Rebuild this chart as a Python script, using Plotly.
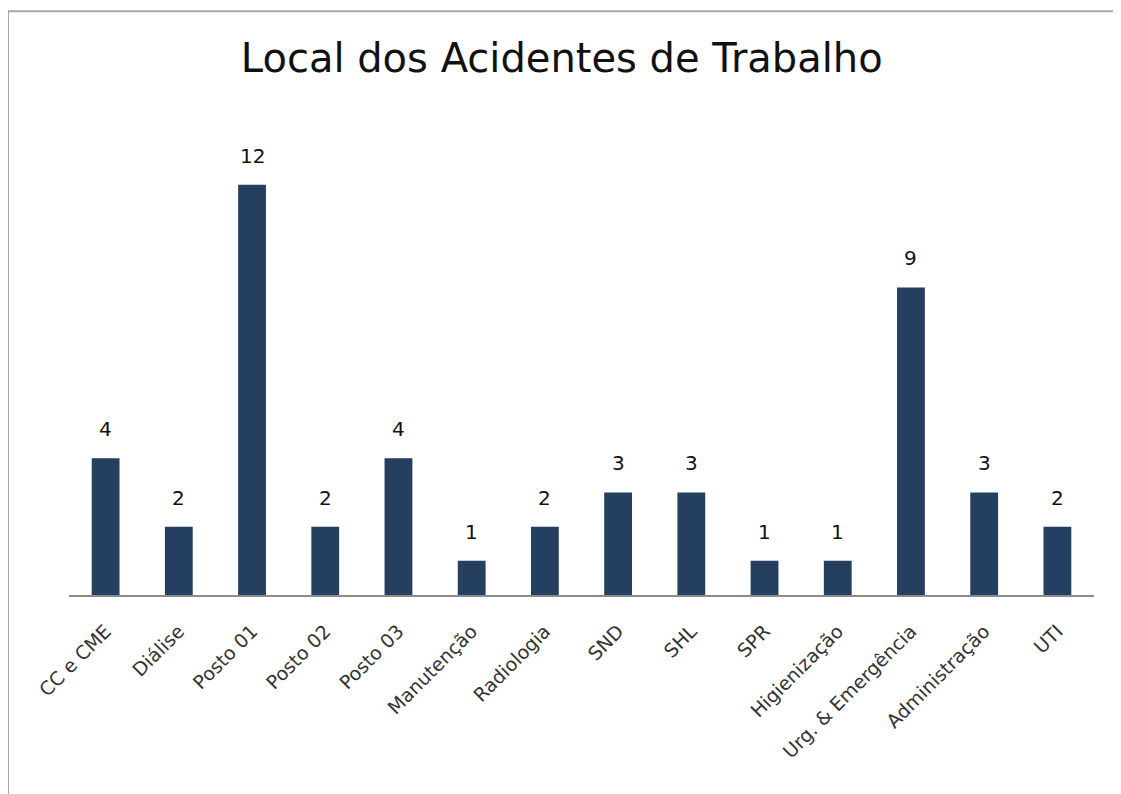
import plotly.graph_objects as go

locais = [
    "CC e CME", "Diálise", "Posto 01", "Posto 02", "Posto 03", "Manutenção",
    "Radiologia", "SND", "SHL", "SPR", "Higienização", "Urg. & Emergência",
    "Administração", "UTI",
]
acidentes = [4, 2, 12, 2, 4, 1, 2, 3, 3, 1, 1, 9, 3, 2]

FONTE = "DejaVu Sans, sans-serif"

fig = go.Figure(
    go.Bar(
        x=locais,
        y=acidentes,
        marker=dict(color="#243F60", line=dict(width=0)),
        width=0.38,
        hoverinfo="x+y",
    )
)

for loc, n in zip(locais, acidentes):
    fig.add_annotation(
        x=loc, y=n, text=str(n), showarrow=False, yanchor="bottom", yshift=15,
        font=dict(family=FONTE, size=20, color="#111111"),
    )

# moldura cinza em volta do gráfico
fig.add_shape(
    type="rect", xref="paper", yref="paper",
    x0=-0.0595, x1=1.0215, y0=-0.5, y1=1.312,
    line=dict(color="#A6A6A6", width=2), fillcolor="rgba(0,0,0,0)",
)

# a página tem 8px de margem no body, por isso as margens estão deslocadas
fig.update_layout(
    width=1121,
    height=794,
    margin=dict(l=61, r=35, t=142, b=207, autoexpand=False),
    paper_bgcolor="white",
    plot_bgcolor="white",
    showlegend=False,
    title=dict(
        text="Local dos Acidentes de Trabalho",
        x=0.494, xanchor="center", y=0.937, yanchor="middle",
        font=dict(family=FONTE, size=40, color="#111111"),
    ),
    xaxis=dict(
        showline=True, linecolor="#8C8C8C", linewidth=1.5,
        showgrid=False, ticks="", tickangle=-45, automargin=False,
        ticklabelstandoff=16,
        tickfont=dict(family=FONTE, size=19, color="#333333"),
    ),
    yaxis=dict(range=[0, 13.02], visible=False, showgrid=False),
)

fig.write_html("out.html")
